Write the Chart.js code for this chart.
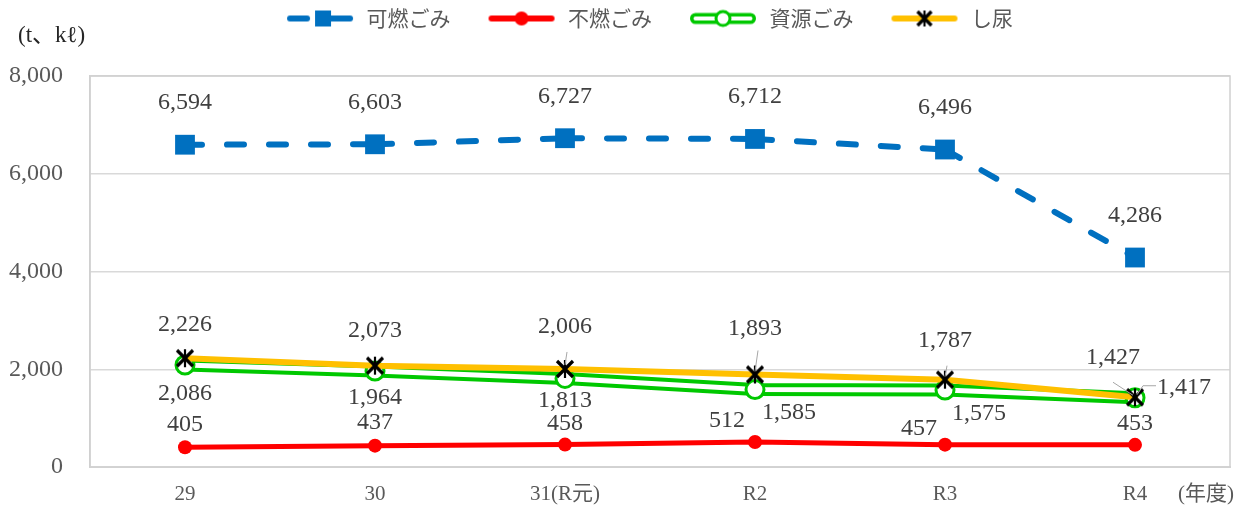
<!DOCTYPE html>
<html><head><meta charset="utf-8">
<script src="https://cdn.jsdelivr.net/npm/chart.js@4"></script>
<style>html,body{margin:0;padding:0;background:#fff}</style>
</head><body>
<canvas id="c" width="1248" height="510"></canvas>
<script>
// ---- data ----
const categories = ['29', '30', '31(R元)', 'R2', 'R3', 'R4'];
const seriesNames = ['可燃ごみ', '不燃ごみ', '資源ごみ', 'し尿'];
const kanen  = [6594, 6603, 6727, 6712, 6496, 4286];
const funen  = [405, 437, 458, 512, 457, 453];
const shigen = [2086, 1964, 1813, 1585, 1575, 1417];
const shinyo = [2226, 2073, 2006, 1893, 1787, 1427];
const yTicks = [0, 2000, 4000, 6000, 8000];
const yUnit = '(t、kℓ)';
const xUnit = '(年度)';

// ---- styles ----
const BLUE = '#0070C0', RED = '#FF0000', GREEN = '#00C800', YELLOW = '#FFC000';
const NUMFONT = "'Liberation Serif', 'Noto Sans CJK JP', serif";
const JPFONT = "'Noto Sans CJK JP', sans-serif";

function mk(w, h, fn) { const c = document.createElement('canvas'); c.width = w; c.height = h; fn(c.getContext('2d')); return c; }
function drawStar(g, cx, cy, s) {
  g.strokeStyle = '#000'; g.lineCap = 'butt';
  g.lineWidth = 3.2;
  g.beginPath(); g.moveTo(cx - s, cy - s); g.lineTo(cx + s, cy + s);
  g.moveTo(cx + s, cy - s); g.lineTo(cx - s, cy + s); g.stroke();
  g.lineWidth = 2.2;
  g.beginPath(); g.moveTo(cx, cy - s - 1); g.lineTo(cx, cy + s + 1); g.stroke();
}
const starMarker = mk(24, 24, g => drawStar(g, 12, 12, 8));

const LW = 99, LH = 26, LCY = 13, LX0 = 30, LX1 = 96, LXM = 63;
const legendIcons = [
  mk(LW, LH, g => {
    g.strokeStyle = BLUE; g.lineWidth = 6; g.lineCap = 'round';
    g.beginPath(); g.moveTo(LX0 + 3, LCY); g.lineTo(LX0 + 20, LCY); g.stroke();
    g.beginPath(); g.moveTo(LX0 + 44, LCY); g.lineTo(LX1 - 3, LCY); g.stroke();
    g.fillStyle = BLUE; g.fillRect(LX0 + 28, LCY - 8, 16, 16);
  }),
  mk(LW, LH, g => {
    g.strokeStyle = RED; g.lineWidth = 6; g.lineCap = 'round';
    g.beginPath(); g.moveTo(LX0 + 3, LCY); g.lineTo(LX1 - 3, LCY); g.stroke();
    g.fillStyle = RED; g.beginPath(); g.arc(LXM, LCY, 7, 0, Math.PI * 2); g.fill();
  }),
  mk(LW, LH, g => {
    g.lineCap = 'round';
    g.strokeStyle = GREEN; g.lineWidth = 11;
    g.beginPath(); g.moveTo(LX0 + 5.5, LCY); g.lineTo(LX1 - 5.5, LCY); g.stroke();
    g.strokeStyle = '#fff'; g.lineWidth = 4;
    g.beginPath(); g.moveTo(LX0 + 5.5, LCY); g.lineTo(LX1 - 5.5, LCY); g.stroke();
    g.fillStyle = '#fff'; g.strokeStyle = GREEN; g.lineWidth = 3;
    g.beginPath(); g.arc(LXM, LCY, 7, 0, Math.PI * 2); g.fill(); g.stroke();
  }),
  mk(LW, LH, g => {
    g.strokeStyle = YELLOW; g.lineWidth = 6; g.lineCap = 'round';
    g.beginPath(); g.moveTo(LX0 + 3, LCY); g.lineTo(LX1 - 3, LCY); g.stroke();
    drawStar(g, LXM, LCY, 7);
  })
];

// label offsets [dx, dy] relative to each point (layout only)
const labelPlacement = {
  0: [[0,-42],[0,-42],[0,-42],[0,-42],[0,-42],[0,-42]],
  1: [[0,-23],[0,-23],[0,-21],[-28,-21],[-26,-16],[0,-21]],
  2: [[0,29],[0,27],[0,22],[34,23],[34,24],[49,-10]],
  3: [[0,-34],[0,-35],[0,-42],[0,-46],[0,-39],[-22,-40]]
};
// leader lines: dataset, index, polyline offsets relative to point
const leaders = [
  [3, 2, [[2,-17],[0,-4]]],
  [3, 3, [[3,-24],[0,-3]]],
  [3, 4, [[2,-14],[0,-3]]],
  [3, 5, [[-22,-15],[-2,-2]]],
  [2, 5, [[2,-3],[8,-12],[21,-12]]]
];

const extrasPlugin = {
  id: 'extras',
  beforeLayout(chart) {
    const lg = chart.legend;
    if (lg && !lg._patched) {
      const f = lg.fit.bind(lg);
      lg.fit = function () {
        f();
        this.height = 76;
        this.lineWidths = this.lineWidths.map(w => w - 40);
      };
      lg._patched = true;
    }
  },
  beforeDatasetsDraw(chart) {
    const {ctx, chartArea: a} = chart;
    ctx.save();
    ctx.strokeStyle = '#d0d0d0'; ctx.lineWidth = 1.5;
    ctx.strokeRect(a.left, a.top, a.right - a.left, a.bottom - a.top);
    ctx.restore();
  },
  afterDatasetsDraw(chart) {
    const {ctx} = chart;
    ctx.save();
    ctx.strokeStyle = '#a6a6a6'; ctx.lineWidth = 1;
    leaders.forEach(([d, i, pts]) => {
      const p = chart.getDatasetMeta(d).data[i];
      ctx.beginPath();
      pts.forEach(([dx, dy], k) => { k ? ctx.lineTo(p.x + dx, p.y + dy) : ctx.moveTo(p.x + dx, p.y + dy); });
      ctx.stroke();
    });
    ctx.font = '24px ' + NUMFONT; ctx.fillStyle = '#404040';
    ctx.textAlign = 'center'; ctx.textBaseline = 'middle';
    Object.keys(labelPlacement).forEach(k => {
      const d = +k, meta = chart.getDatasetMeta(d), vals = chart.data.datasets[d].data;
      meta.data.forEach((p, i) => {
        const [dx, dy] = labelPlacement[k][i];
        ctx.fillText(vals[i].toLocaleString('en-US'), p.x + dx, p.y + dy);
      });
    });
    ctx.font = '23px ' + NUMFONT; ctx.fillStyle = '#262626'; ctx.textAlign = 'left';
    ctx.fillText(yUnit, 18, 36);
    ctx.font = '21px ' + NUMFONT; ctx.fillStyle = '#595959';
    ctx.fillText(xUnit, 1178, 494);
    ctx.restore();
  }
};

new Chart(document.getElementById('c'), {
  type: 'line',
  data: {
    labels: categories,
    datasets: [
      { label: seriesNames[0], data: kanen, borderColor: BLUE, borderWidth: 6, borderDash: [17, 25],
        borderCapStyle: 'round', pointStyle: 'rect', pointRadius: 14, pointBackgroundColor: BLUE,
        pointBorderWidth: 0, order: 0,
        segment: { borderDashOffset: c => c.p0DataIndex * 0.0001 } },
      { label: seriesNames[1], data: funen, borderColor: RED, borderWidth: 5, borderCapStyle: 'round',
        borderJoinStyle: 'round', pointStyle: 'circle', pointRadius: 7, pointBackgroundColor: RED,
        pointBorderWidth: 0, order: 0 },
      { label: seriesNames[2], data: shigen, borderColor: GREEN, borderWidth: 13, borderCapStyle: 'round',
        borderJoinStyle: 'round', pointRadius: 0, order: 2 },
      { label: seriesNames[3], data: shinyo, borderColor: YELLOW, borderWidth: 6, borderCapStyle: 'round',
        borderJoinStyle: 'round', pointStyle: starMarker, pointRadius: 8, order: 0 },
      { label: seriesNames[2] + ' (inner)', data: shigen, borderColor: '#ffffff', borderWidth: 5,
        borderJoinStyle: 'round', pointStyle: 'circle', pointRadius: 9, pointBackgroundColor: '#ffffff',
        pointBorderColor: GREEN, pointBorderWidth: 3, order: 1 }
    ]
  },
  options: {
    responsive: false,
    animation: false,
    events: [],
    layout: { padding: { left: 0, right: 18, top: 0, bottom: 0 } },
    elements: { line: { tension: 0, fill: false } },
    plugins: {
      tooltip: { enabled: false },
      legend: {
        position: 'top',
        labels: {
          usePointStyle: true, pointStyleWidth: LW, padding: 8,
          font: { family: JPFONT, size: 21 }, color: '#595959',
          generateLabels: chart => [0, 1, 2, 3].map(i => ({
            text: chart.data.datasets[i].label, pointStyle: legendIcons[i], datasetIndex: i,
            hidden: false, fillStyle: 'transparent', strokeStyle: 'transparent', lineWidth: 0, fontColor: '#595959'
          }))
        }
      }
    },
    scales: {
      x: {
        offset: true,
        grid: { display: false, drawTicks: false },
        border: { display: true, color: '#d9d9d9', width: 2 },
        ticks: { padding: 15, color: '#595959', font: { family: NUMFONT, size: 21 } },
        afterFit: s => { s.height = 43; }
      },
      y: {
        min: 0, max: 8000,
        afterBuildTicks: s => { s.ticks = yTicks.map(v => ({ value: v })); },
        grid: { color: '#d9d9d9', lineWidth: 1.5, drawTicks: false },
        border: { display: true, color: '#d0d0d0', width: 1.5 },
        ticks: { padding: 27, color: '#595959', font: { family: NUMFONT, size: 24 },
          callback: v => v.toLocaleString('en-US') },
        afterFit: s => { s.width = 90; }
      }
    }
  },
  plugins: [extrasPlugin]
});
</script>
</body></html>
